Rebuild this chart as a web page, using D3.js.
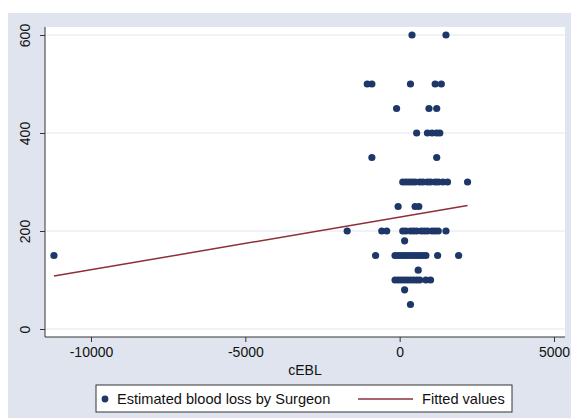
<!DOCTYPE html>
<html>
<head>
<meta charset="utf-8">
<script src="https://cdn.jsdelivr.net/npm/d3@7"></script>
<style>
  body { margin: 0; background: #fff; }
  text { font-family: "Liberation Sans", Arial, sans-serif; }
</style>
</head>
<body>
<script>
// scatter values: cEBL (x) and surgeon estimate (y)
const cEBL = [
    400, 1500,
    -1050, -900, 350, 1150, 1350,
    -100, 950, 1200,
    550, 900, 1050, 1200, 1300,
    -900, 1200,
    100, 200, 300, 400, 500, 650, 750, 900, 1000, 1150, 1250, 1400, 1550, 2200,
    -50, 500, 620,
    -1700, -580, -420, 100, 200, 350, 450, 550, 700, 800, 900, 1050, 1150, 1250, 1500,
    160,
    -780, -150, -50, 50, 150, 250, 350, 450, 550, 650, 750, 850, 1230, 1910,
    600,
    -150, -50, 50, 150, 250, 350, 450, 550, 650, 850, 1000,
    160,
    350,
    -11200
];
const surgeonEBL = [
    600, 600,
    500, 500, 500, 500, 500,
    450, 450, 450,
    400, 400, 400, 400, 400,
    350, 350,
    300, 300, 300, 300, 300, 300, 300, 300, 300, 300, 300, 300, 300, 300,
    250, 250, 250,
    200, 200, 200, 200, 200, 200, 200, 200, 200, 200, 200, 200, 200, 200, 200,
    180,
    150, 150, 150, 150, 150, 150, 150, 150, 150, 150, 150, 150, 150, 150,
    120,
    100, 100, 100, 100, 100, 100, 100, 100, 100, 100, 100,
    80,
    50,
    150
];

// fitted line end points
const fitX = [-11200, 2200];
const fitY = [108, 252];

const xTicks = [-10000, -5000, 0, 5000];
const yTicks = [0, 200, 400, 600];

const width = 571, height = 418;
const plot = { left: 45, right: 565, top: 27, bottom: 337 };

const svg = d3.select("body").append("svg")
    .attr("width", width)
    .attr("height", height);

// outer graph region
svg.append("rect")
    .attr("x", 8).attr("y", 13)
    .attr("width", width - 8).attr("height", height - 13)
    .attr("fill", "#dfe4ee");

// plot region
svg.append("rect")
    .attr("x", plot.left).attr("y", plot.top)
    .attr("width", plot.right - plot.left).attr("height", plot.bottom - plot.top)
    .attr("fill", "#fff");

const x = d3.scaleLinear().domain([-10000, 5000]).range([91, 554]);
const y = d3.scaleLinear().domain([0, 600]).range([329, 35]);

// grid
svg.append("g")
    .selectAll("line")
    .data(yTicks)
    .enter()
    .append("line")
    .attr("x1", plot.left).attr("x2", plot.right)
    .attr("y1", d => y(d)).attr("y2", d => y(d))
    .attr("stroke", "#e3e6eb")
    .attr("stroke-width", 1.2);

// y axis
const yAxis = svg.append("g")
    .attr("transform", "translate(" + plot.left + ",0)")
    .call(d3.axisLeft(y).tickValues(yTicks).tickSize(5).tickPadding(8).tickSizeOuter(0));
yAxis.select(".domain").attr("d", "M0," + plot.top + "V" + plot.bottom).attr("stroke", "#333");
yAxis.selectAll(".tick line").attr("stroke", "#333");
yAxis.selectAll(".tick text")
    .attr("font-size", 14)
    .attr("fill", "#111")
    .attr("text-anchor", "middle")
    .attr("x", 0).attr("dy", 0)
    .attr("transform", "translate(-15,0) rotate(-90)");

// x axis, plain hyphen minus and no thousands separator
const xAxis = svg.append("g")
    .attr("transform", "translate(0," + plot.bottom + ")")
    .call(d3.axisBottom(x).tickValues(xTicks).tickFormat(d => String(d))
        .tickSize(5).tickPadding(5).tickSizeOuter(0));
xAxis.select(".domain").attr("d", "M" + plot.left + ",0H" + plot.right).attr("stroke", "#333");
xAxis.selectAll(".tick line").attr("stroke", "#333");
xAxis.selectAll(".tick text").attr("font-size", 14).attr("fill", "#111");

svg.append("text")
    .attr("x", (plot.left + plot.right) / 2)
    .attr("y", 375)
    .attr("text-anchor", "middle")
    .attr("font-size", 14)
    .attr("fill", "#111")
    .text("cEBL");

// fitted line
const fit = fitX.map((d, i) => [d, fitY[i]]);
svg.append("path")
    .attr("d", d3.line().x(d => x(d[0])).y(d => y(d[1]))(fit))
    .attr("fill", "none")
    .attr("stroke", "#8c2f3a")
    .attr("stroke-width", 1.5);

// points
svg.append("g")
    .selectAll("circle")
    .data(cEBL.map((d, i) => [d, surgeonEBL[i]]))
    .enter()
    .append("circle")
    .attr("cx", d => x(d[0]))
    .attr("cy", d => y(d[1]))
    .attr("r", 3.6)
    .attr("fill", "#1c3768");

// legend
const legend = svg.append("g");
legend.append("rect")
    .attr("x", 96).attr("y", 385)
    .attr("width", 416).attr("height", 27)
    .attr("fill", "#fff")
    .attr("stroke", "#333");
legend.append("circle")
    .attr("cx", 105).attr("cy", 399).attr("r", 3.4)
    .attr("fill", "#1c3768");
legend.append("text")
    .attr("x", 117).attr("y", 404)
    .attr("font-size", 14.6).attr("fill", "#111")
    .text("Estimated blood loss by Surgeon");
legend.append("line")
    .attr("x1", 358).attr("x2", 413)
    .attr("y1", 399).attr("y2", 399)
    .attr("stroke", "#8c2f3a").attr("stroke-width", 1.5);
legend.append("text")
    .attr("x", 422).attr("y", 404)
    .attr("font-size", 14.6).attr("fill", "#111")
    .text("Fitted values");
</script>
</body>
</html>
